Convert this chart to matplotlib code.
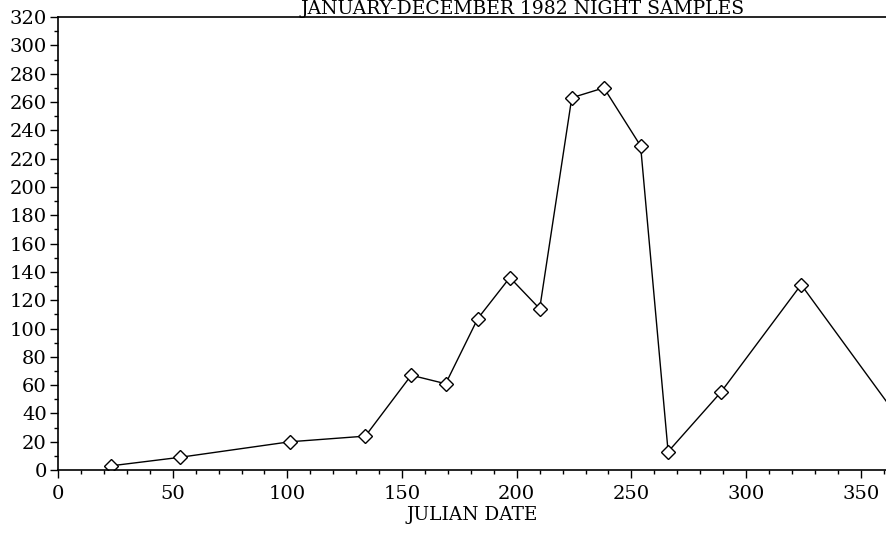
import matplotlib
matplotlib.use("Agg")
import matplotlib.pyplot as plt
from matplotlib.ticker import MultipleLocator

# julian date vs. count
julian_day = [23, 53, 101, 134, 154, 169, 183, 197, 210, 224, 238, 254, 266, 289, 324, 365]
counts = [3, 9, 20, 24, 67, 61, 107, 136, 114, 263, 270, 229, 13, 55, 131, 40]

plt.rcParams['font.family'] = ['DejaVu Serif']

fig = plt.figure(figsize=(8.86, 5.33), dpi=100)
ax = fig.add_axes([0.0655, 0.118, 0.9345, 0.85])

ax.plot(julian_day, counts, color='black', linewidth=1.0,
        marker='D', markersize=7, markerfacecolor='white',
        markeredgecolor='black', markeredgewidth=1.0)

ax.set_xlim(0, 361)
ax.set_ylim(0, 320)
ax.xaxis.set_major_locator(MultipleLocator(50))
ax.xaxis.set_minor_locator(MultipleLocator(10))
ax.yaxis.set_major_locator(MultipleLocator(20))
ax.yaxis.set_minor_locator(MultipleLocator(10))
ax.tick_params(which='major', direction='out', length=6, width=1, labelsize=14)
ax.tick_params(axis='x', which='major', pad=5)
ax.tick_params(axis='y', which='major', pad=2)
ax.tick_params(which='minor', direction='out', length=3, width=1)
ax.spines['right'].set_visible(False)
for s in ['top', 'left', 'bottom']:
    ax.spines[s].set_linewidth(1.2)

ax.set_xlabel('JULIAN DATE', fontsize=13.3, labelpad=2)
# title sits right on the top frame line, as in the scan
fig.text(0.59, 0.974, 'JANUARY-DECEMBER 1982 NIGHT SAMPLES', ha='center',
         va='baseline', fontsize=13.5)

fig.savefig('out.png', dpi=100)
